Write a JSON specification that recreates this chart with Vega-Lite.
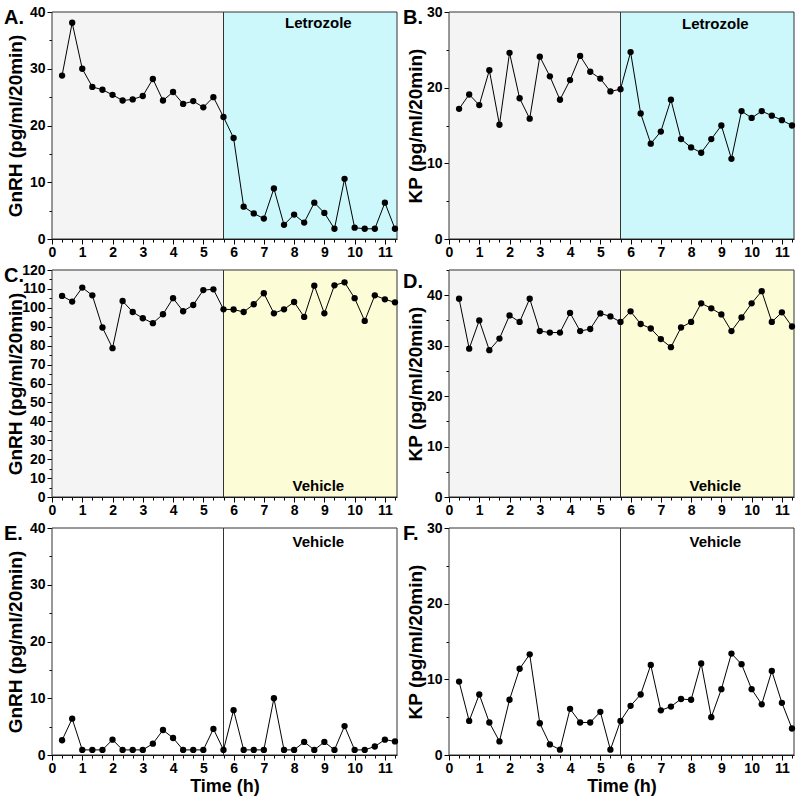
{
  "$schema": "https://vega.github.io/schema/vega-lite/v6.json",
  "padding": {"top": 5, "left": 4, "right": 5, "bottom": 2},
  "background": "white",
  "datasets": {
    "A": [{"t":0.333,"v":28.8},{"t":0.667,"v":38.1},{"t":1,"v":30.0},{"t":1.333,"v":26.8},{"t":1.667,"v":26.3},{"t":2,"v":25.4},{"t":2.333,"v":24.4},{"t":2.667,"v":24.6},{"t":3,"v":25.2},{"t":3.333,"v":28.2},{"t":3.667,"v":24.4},{"t":4,"v":25.9},{"t":4.333,"v":23.8},{"t":4.667,"v":24.3},{"t":5,"v":23.2},{"t":5.333,"v":25.0},{"t":5.667,"v":21.5},{"t":6,"v":17.8},{"t":6.333,"v":5.7},{"t":6.667,"v":4.5},{"t":7,"v":3.6},{"t":7.333,"v":8.9},{"t":7.667,"v":2.5},{"t":8,"v":4.3},{"t":8.333,"v":2.9},{"t":8.667,"v":6.4},{"t":9,"v":4.6},{"t":9.333,"v":1.8},{"t":9.667,"v":10.6},{"t":10,"v":2.0},{"t":10.333,"v":1.8},{"t":10.667,"v":1.8},{"t":11,"v":6.4},{"t":11.333,"v":1.8}],
    "B": [{"t":0.333,"v":17.2},{"t":0.667,"v":19.1},{"t":1,"v":17.7},{"t":1.333,"v":22.3},{"t":1.667,"v":15.1},{"t":2,"v":24.6},{"t":2.333,"v":18.6},{"t":2.667,"v":15.9},{"t":3,"v":24.1},{"t":3.333,"v":21.5},{"t":3.667,"v":18.4},{"t":4,"v":21.0},{"t":4.333,"v":24.2},{"t":4.667,"v":22.1},{"t":5,"v":21.2},{"t":5.333,"v":19.5},{"t":5.667,"v":19.8},{"t":6,"v":24.7},{"t":6.333,"v":16.6},{"t":6.667,"v":12.6},{"t":7,"v":14.2},{"t":7.333,"v":18.4},{"t":7.667,"v":13.2},{"t":8,"v":12.1},{"t":8.333,"v":11.4},{"t":8.667,"v":13.2},{"t":9,"v":15.0},{"t":9.333,"v":10.6},{"t":9.667,"v":16.9},{"t":10,"v":16.0},{"t":10.333,"v":16.9},{"t":10.667,"v":16.3},{"t":11,"v":15.7},{"t":11.333,"v":15.0}],
    "C": [{"t":0.333,"v":106.3},{"t":0.667,"v":103.3},{"t":1,"v":110.7},{"t":1.333,"v":106.6},{"t":1.667,"v":89.6},{"t":2,"v":78.7},{"t":2.333,"v":103.6},{"t":2.667,"v":97.8},{"t":3,"v":94.5},{"t":3.333,"v":91.9},{"t":3.667,"v":96.6},{"t":4,"v":105.1},{"t":4.333,"v":98.2},{"t":4.667,"v":101.5},{"t":5,"v":109.4},{"t":5.333,"v":109.8},{"t":5.667,"v":99.2},{"t":6,"v":99.1},{"t":6.333,"v":97.8},{"t":6.667,"v":101.9},{"t":7,"v":107.7},{"t":7.333,"v":97.1},{"t":7.667,"v":99.2},{"t":8,"v":103.1},{"t":8.333,"v":95.2},{"t":8.667,"v":111.7},{"t":9,"v":97.1},{"t":9.333,"v":111.9},{"t":9.667,"v":113.5},{"t":10,"v":105.1},{"t":10.333,"v":93.1},{"t":10.667,"v":106.6},{"t":11,"v":104.5},{"t":11.333,"v":102.9}],
    "D": [{"t":0.333,"v":39.3},{"t":0.667,"v":29.4},{"t":1,"v":35.0},{"t":1.333,"v":29.1},{"t":1.667,"v":31.4},{"t":2,"v":36.0},{"t":2.333,"v":34.7},{"t":2.667,"v":39.3},{"t":3,"v":32.9},{"t":3.333,"v":32.6},{"t":3.667,"v":32.6},{"t":4,"v":36.5},{"t":4.333,"v":32.9},{"t":4.667,"v":33.3},{"t":5,"v":36.4},{"t":5.333,"v":35.8},{"t":5.667,"v":34.7},{"t":6,"v":36.8},{"t":6.333,"v":34.3},{"t":6.667,"v":33.4},{"t":7,"v":31.3},{"t":7.333,"v":29.7},{"t":7.667,"v":33.6},{"t":8,"v":34.7},{"t":8.333,"v":38.4},{"t":8.667,"v":37.4},{"t":9,"v":36.2},{"t":9.333,"v":32.9},{"t":9.667,"v":35.6},{"t":10,"v":38.4},{"t":10.333,"v":40.8},{"t":10.667,"v":34.7},{"t":11,"v":36.6},{"t":11.333,"v":33.8}],
    "E": [{"t":0.333,"v":2.6},{"t":0.667,"v":6.4},{"t":1,"v":0.9},{"t":1.333,"v":0.9},{"t":1.667,"v":0.9},{"t":2,"v":2.7},{"t":2.333,"v":0.9},{"t":2.667,"v":0.9},{"t":3,"v":0.9},{"t":3.333,"v":2.0},{"t":3.667,"v":4.4},{"t":4,"v":3.0},{"t":4.333,"v":0.9},{"t":4.667,"v":0.9},{"t":5,"v":0.9},{"t":5.333,"v":4.6},{"t":5.667,"v":0.9},{"t":6,"v":7.9},{"t":6.333,"v":0.9},{"t":6.667,"v":0.9},{"t":7,"v":0.9},{"t":7.333,"v":10.0},{"t":7.667,"v":0.9},{"t":8,"v":0.9},{"t":8.333,"v":2.3},{"t":8.667,"v":0.9},{"t":9,"v":2.3},{"t":9.333,"v":0.9},{"t":9.667,"v":5.1},{"t":10,"v":0.9},{"t":10.333,"v":0.9},{"t":10.667,"v":1.5},{"t":11,"v":2.7},{"t":11.333,"v":2.4}],
    "F": [{"t":0.333,"v":9.7},{"t":0.667,"v":4.5},{"t":1,"v":8.0},{"t":1.333,"v":4.3},{"t":1.667,"v":1.8},{"t":2,"v":7.3},{"t":2.333,"v":11.4},{"t":2.667,"v":13.3},{"t":3,"v":4.2},{"t":3.333,"v":1.4},{"t":3.667,"v":0.7},{"t":4,"v":6.1},{"t":4.333,"v":4.3},{"t":4.667,"v":4.3},{"t":5,"v":5.7},{"t":5.333,"v":0.7},{"t":5.667,"v":4.5},{"t":6,"v":6.5},{"t":6.333,"v":8.0},{"t":6.667,"v":11.9},{"t":7,"v":5.9},{"t":7.333,"v":6.4},{"t":7.667,"v":7.4},{"t":8,"v":7.3},{"t":8.333,"v":12.1},{"t":8.667,"v":5.0},{"t":9,"v":8.7},{"t":9.333,"v":13.4},{"t":9.667,"v":12.0},{"t":10,"v":8.7},{"t":10.333,"v":6.7},{"t":10.667,"v":11.1},{"t":11,"v":6.9},{"t":11.333,"v":3.5}],
    "phLet": [{"t":0,"t2":5.667,"phase":"Baseline"},{"t":5.667,"t2":11.4,"phase":"Letrozole"}],
    "phVeh": [{"t":0,"t2":5.667,"phase":"Baseline"},{"t":5.667,"t2":11.4,"phase":"Vehicle"}],
    "phCtl": [{"t":0,"t2":5.667,"phase":"Before"},{"t":5.667,"t2":11.4,"phase":"After"}]
  },
  "columns": 2,
  "spacing": {"row": 4, "column": 4},
  "align": "each",
  "concat": [
    {
      "width": 345, "height": 227,
      "title": {"text": "A."},
      "encoding": {"x": {"field": "t", "type": "quantitative", "scale": {"domain": [0, 11.4], "nice": false, "zero": false},
        "axis": {"title": null, "tickCount": 100, "values": [0,0.333,0.667,1,1.333,1.667,2,2.333,2.667,3,3.333,3.667,4,4.333,4.667,5,5.333,5.667,6,6.333,6.667,7,7.333,7.667,8,8.333,8.667,9,9.333,9.667,10,10.333,10.667,11,11.333],
          "labelExpr": "abs(datum.value - round(datum.value)) < 0.01 ? toString(round(datum.value)) : ''",
          "tickSize": {"condition": {"test": "abs(datum.value - round(datum.value)) < 0.01", "value": 5}, "value": 3}}}},
      "layer": [
        {"data": {"name": "phLet"}, "mark": {"type": "rect", "stroke": "#333333", "strokeWidth": 1},
         "encoding": {"x2": {"field": "t2"}, "fill": {"field": "phase", "type": "nominal", "legend": null, "scale": {"domain": ["Baseline", "Letrozole", "Vehicle", "Before", "After"], "range": ["#f4f4f4", "#ccf8fc", "#fcfcd6", "#ffffff", "#ffffff"]}}}},
        {"data": {"name": "A"}, "mark": {"type": "line", "color": "black", "strokeWidth": 1, "point": {"filled": true, "size": 40, "color": "black"}},
         "encoding": {"y": {"field": "v", "type": "quantitative", "scale": {"domain": [0, 40], "nice": false},
           "axis": {"title": "GnRH (pg/ml/20min)", "titleX": -27, "tickCount": 100, "values": [0,5,10,15,20,25,30,35,40], "labelExpr": "datum.value % 10 === 0 ? toString(datum.value) : ''", "labelFontSize": {"condition": {"test": "datum.value % 10 === 0", "value": 14}, "value": 1}, "tickSize": {"condition": {"test": "datum.value % 10 === 0", "value": 5}, "value": 3}}}}},
        {"data": {"values": [{"t": 8.8, "v": 38.1, "label": "Letrozole"}]}, "mark": {"type": "text", "font": "Liberation Sans", "fontSize": 15, "fontWeight": "bold", "align": "center", "baseline": "middle", "color": "black"},
         "encoding": {"y": {"field": "v", "type": "quantitative", "scale": {"domain": [0, 40], "nice": false}}, "text": {"field": "label"}}}
      ]
    },
    {
      "width": 345, "height": 227,
      "title": {"text": "B.", "dx": -46},
      "encoding": {"x": {"field": "t", "type": "quantitative", "scale": {"domain": [0, 11.4], "nice": false, "zero": false},
        "axis": {"title": null, "tickCount": 100, "values": [0,0.333,0.667,1,1.333,1.667,2,2.333,2.667,3,3.333,3.667,4,4.333,4.667,5,5.333,5.667,6,6.333,6.667,7,7.333,7.667,8,8.333,8.667,9,9.333,9.667,10,10.333,10.667,11,11.333],
          "labelExpr": "abs(datum.value - round(datum.value)) < 0.01 ? toString(round(datum.value)) : ''",
          "tickSize": {"condition": {"test": "abs(datum.value - round(datum.value)) < 0.01", "value": 5}, "value": 3}}}},
      "layer": [
        {"data": {"name": "phLet"}, "mark": {"type": "rect", "stroke": "#333333", "strokeWidth": 1},
         "encoding": {"x2": {"field": "t2"}, "fill": {"field": "phase", "type": "nominal", "legend": null, "scale": {"domain": ["Baseline", "Letrozole", "Vehicle", "Before", "After"], "range": ["#f4f4f4", "#ccf8fc", "#fcfcd6", "#ffffff", "#ffffff"]}}}},
        {"data": {"name": "B"}, "mark": {"type": "line", "color": "black", "strokeWidth": 1, "point": {"filled": true, "size": 40, "color": "black"}},
         "encoding": {"y": {"field": "v", "type": "quantitative", "scale": {"domain": [0, 30], "nice": false},
           "axis": {"title": "KP (pg/ml/20min)", "titleX": -24, "tickCount": 100, "values": [0,5,10,15,20,25,30], "labelExpr": "datum.value % 10 === 0 ? toString(datum.value) : ''", "labelFontSize": {"condition": {"test": "datum.value % 10 === 0", "value": 14}, "value": 1}, "tickSize": {"condition": {"test": "datum.value % 10 === 0", "value": 5}, "value": 3}}}}},
        {"data": {"values": [{"t": 8.8, "v": 28.4, "label": "Letrozole"}]}, "mark": {"type": "text", "font": "Liberation Sans", "fontSize": 15, "fontWeight": "bold", "align": "center", "baseline": "middle", "color": "black"},
         "encoding": {"y": {"field": "v", "type": "quantitative", "scale": {"domain": [0, 30], "nice": false}}, "text": {"field": "label"}}}
      ]
    },
    {
      "width": 345, "height": 227,
      "title": {"text": "C."},
      "encoding": {"x": {"field": "t", "type": "quantitative", "scale": {"domain": [0, 11.4], "nice": false, "zero": false},
        "axis": {"title": null, "tickCount": 100, "values": [0,0.333,0.667,1,1.333,1.667,2,2.333,2.667,3,3.333,3.667,4,4.333,4.667,5,5.333,5.667,6,6.333,6.667,7,7.333,7.667,8,8.333,8.667,9,9.333,9.667,10,10.333,10.667,11,11.333],
          "labelExpr": "abs(datum.value - round(datum.value)) < 0.01 ? toString(round(datum.value)) : ''",
          "tickSize": {"condition": {"test": "abs(datum.value - round(datum.value)) < 0.01", "value": 5}, "value": 3}}}},
      "layer": [
        {"data": {"name": "phVeh"}, "mark": {"type": "rect", "stroke": "#333333", "strokeWidth": 1},
         "encoding": {"x2": {"field": "t2"}, "fill": {"field": "phase", "type": "nominal", "legend": null, "scale": {"domain": ["Baseline", "Letrozole", "Vehicle", "Before", "After"], "range": ["#f4f4f4", "#ccf8fc", "#fcfcd6", "#ffffff", "#ffffff"]}}}},
        {"data": {"name": "C"}, "mark": {"type": "line", "color": "black", "strokeWidth": 1, "point": {"filled": true, "size": 40, "color": "black"}},
         "encoding": {"y": {"field": "v", "type": "quantitative", "scale": {"domain": [0, 120], "nice": false},
           "axis": {"title": "GnRH (pg/ml/20min)", "titleX": -27, "tickCount": 100, "values": [0,5,10,15,20,25,30,35,40,45,50,55,60,65,70,75,80,85,90,95,100,105,110,115,120], "labelExpr": "datum.value % 10 === 0 ? toString(datum.value) : ''", "labelFontSize": {"condition": {"test": "datum.value % 10 === 0", "value": 14}, "value": 1}, "tickSize": {"condition": {"test": "datum.value % 10 === 0", "value": 5}, "value": 3}}}}},
        {"data": {"values": [{"t": 8.8, "v": 5.8, "label": "Vehicle"}]}, "mark": {"type": "text", "font": "Liberation Sans", "fontSize": 15, "fontWeight": "bold", "align": "center", "baseline": "middle", "color": "black"},
         "encoding": {"y": {"field": "v", "type": "quantitative", "scale": {"domain": [0, 120], "nice": false}}, "text": {"field": "label"}}}
      ]
    },
    {
      "width": 345, "height": 227,
      "title": {"text": "D.", "dx": -46},
      "encoding": {"x": {"field": "t", "type": "quantitative", "scale": {"domain": [0, 11.4], "nice": false, "zero": false},
        "axis": {"title": null, "tickCount": 100, "values": [0,0.333,0.667,1,1.333,1.667,2,2.333,2.667,3,3.333,3.667,4,4.333,4.667,5,5.333,5.667,6,6.333,6.667,7,7.333,7.667,8,8.333,8.667,9,9.333,9.667,10,10.333,10.667,11,11.333],
          "labelExpr": "abs(datum.value - round(datum.value)) < 0.01 ? toString(round(datum.value)) : ''",
          "tickSize": {"condition": {"test": "abs(datum.value - round(datum.value)) < 0.01", "value": 5}, "value": 3}}}},
      "layer": [
        {"data": {"name": "phVeh"}, "mark": {"type": "rect", "stroke": "#333333", "strokeWidth": 1},
         "encoding": {"x2": {"field": "t2"}, "fill": {"field": "phase", "type": "nominal", "legend": null, "scale": {"domain": ["Baseline", "Letrozole", "Vehicle", "Before", "After"], "range": ["#f4f4f4", "#ccf8fc", "#fcfcd6", "#ffffff", "#ffffff"]}}}},
        {"data": {"name": "D"}, "mark": {"type": "line", "color": "black", "strokeWidth": 1, "point": {"filled": true, "size": 40, "color": "black"}},
         "encoding": {"y": {"field": "v", "type": "quantitative", "scale": {"domain": [0, 45], "nice": false},
           "axis": {"title": "KP (pg/ml/20min)", "titleX": -24, "tickCount": 100, "values": [0,5,10,15,20,25,30,35,40,45], "labelExpr": "datum.value % 10 === 0 ? toString(datum.value) : ''", "labelFontSize": {"condition": {"test": "datum.value % 10 === 0", "value": 14}, "value": 1}, "tickSize": {"condition": {"test": "datum.value % 10 === 0", "value": 5}, "value": 3}}}}},
        {"data": {"values": [{"t": 8.8, "v": 2.2, "label": "Vehicle"}]}, "mark": {"type": "text", "font": "Liberation Sans", "fontSize": 15, "fontWeight": "bold", "align": "center", "baseline": "middle", "color": "black"},
         "encoding": {"y": {"field": "v", "type": "quantitative", "scale": {"domain": [0, 45], "nice": false}}, "text": {"field": "label"}}}
      ]
    },
    {
      "width": 345, "height": 227,
      "title": {"text": "E."},
      "encoding": {"x": {"field": "t", "type": "quantitative", "scale": {"domain": [0, 11.4], "nice": false, "zero": false},
        "axis": {"title": "Time (h)", "tickCount": 100, "values": [0,0.333,0.667,1,1.333,1.667,2,2.333,2.667,3,3.333,3.667,4,4.333,4.667,5,5.333,5.667,6,6.333,6.667,7,7.333,7.667,8,8.333,8.667,9,9.333,9.667,10,10.333,10.667,11,11.333],
          "labelExpr": "abs(datum.value - round(datum.value)) < 0.01 ? toString(round(datum.value)) : ''",
          "tickSize": {"condition": {"test": "abs(datum.value - round(datum.value)) < 0.01", "value": 5}, "value": 3}}}},
      "layer": [
        {"data": {"name": "phCtl"}, "mark": {"type": "rect", "stroke": "#333333", "strokeWidth": 1},
         "encoding": {"x2": {"field": "t2"}, "fill": {"field": "phase", "type": "nominal", "legend": null, "scale": {"domain": ["Baseline", "Letrozole", "Vehicle", "Before", "After"], "range": ["#f4f4f4", "#ccf8fc", "#fcfcd6", "#ffffff", "#ffffff"]}}}},
        {"data": {"name": "E"}, "mark": {"type": "line", "color": "black", "strokeWidth": 1, "point": {"filled": true, "size": 40, "color": "black"}},
         "encoding": {"y": {"field": "v", "type": "quantitative", "scale": {"domain": [0, 40], "nice": false},
           "axis": {"title": "GnRH (pg/ml/20min)", "titleX": -27, "tickCount": 100, "values": [0,5,10,15,20,25,30,35,40], "labelExpr": "datum.value % 10 === 0 ? toString(datum.value) : ''", "labelFontSize": {"condition": {"test": "datum.value % 10 === 0", "value": 14}, "value": 1}, "tickSize": {"condition": {"test": "datum.value % 10 === 0", "value": 5}, "value": 3}}}}},
        {"data": {"values": [{"t": 8.8, "v": 37.6, "label": "Vehicle"}]}, "mark": {"type": "text", "font": "Liberation Sans", "fontSize": 15, "fontWeight": "bold", "align": "center", "baseline": "middle", "color": "black"},
         "encoding": {"y": {"field": "v", "type": "quantitative", "scale": {"domain": [0, 40], "nice": false}}, "text": {"field": "label"}}}
      ]
    },
    {
      "width": 345, "height": 227,
      "title": {"text": "F.", "dx": -46},
      "encoding": {"x": {"field": "t", "type": "quantitative", "scale": {"domain": [0, 11.4], "nice": false, "zero": false},
        "axis": {"title": "Time (h)", "tickCount": 100, "values": [0,0.333,0.667,1,1.333,1.667,2,2.333,2.667,3,3.333,3.667,4,4.333,4.667,5,5.333,5.667,6,6.333,6.667,7,7.333,7.667,8,8.333,8.667,9,9.333,9.667,10,10.333,10.667,11,11.333],
          "labelExpr": "abs(datum.value - round(datum.value)) < 0.01 ? toString(round(datum.value)) : ''",
          "tickSize": {"condition": {"test": "abs(datum.value - round(datum.value)) < 0.01", "value": 5}, "value": 3}}}},
      "layer": [
        {"data": {"name": "phCtl"}, "mark": {"type": "rect", "stroke": "#333333", "strokeWidth": 1},
         "encoding": {"x2": {"field": "t2"}, "fill": {"field": "phase", "type": "nominal", "legend": null, "scale": {"domain": ["Baseline", "Letrozole", "Vehicle", "Before", "After"], "range": ["#f4f4f4", "#ccf8fc", "#fcfcd6", "#ffffff", "#ffffff"]}}}},
        {"data": {"name": "F"}, "mark": {"type": "line", "color": "black", "strokeWidth": 1, "point": {"filled": true, "size": 40, "color": "black"}},
         "encoding": {"y": {"field": "v", "type": "quantitative", "scale": {"domain": [0, 30], "nice": false},
           "axis": {"title": "KP (pg/ml/20min)", "titleX": -24, "tickCount": 100, "values": [0,5,10,15,20,25,30], "labelExpr": "datum.value % 10 === 0 ? toString(datum.value) : ''", "labelFontSize": {"condition": {"test": "datum.value % 10 === 0", "value": 14}, "value": 1}, "tickSize": {"condition": {"test": "datum.value % 10 === 0", "value": 5}, "value": 3}}}}},
        {"data": {"values": [{"t": 8.8, "v": 28.2, "label": "Vehicle"}]}, "mark": {"type": "text", "font": "Liberation Sans", "fontSize": 15, "fontWeight": "bold", "align": "center", "baseline": "middle", "color": "black"},
         "encoding": {"y": {"field": "v", "type": "quantitative", "scale": {"domain": [0, 30], "nice": false}}, "text": {"field": "label"}}}
      ]
    }
  ],
  "config": {
    "font": "Liberation Sans",
    "view": {"stroke": null},
    "axis": {"labelFont": "Liberation Sans", "labelFontSize": 14, "labelFontWeight": "bold", "labelColor": "black", "titleFont": "Liberation Sans", "titleFontWeight": "bold", "titleColor": "black", "domainColor": "black", "domainWidth": 1, "tickColor": "black", "tickWidth": 1, "grid": false, "labelFlush": false, "labelOverlap": false},
    "axisY": {"titleFontSize": 19, "labelPadding": 2},
    "axisX": {"titleFontSize": 18, "labelPadding": 1, "titlePadding": 2},
    "title": {"font": "Liberation Sans", "fontSize": 20, "fontWeight": "bold", "color": "black", "anchor": "start", "frame": "group", "baseline": "alphabetic", "offset": -16, "dx": -48, "dy": 7}
  }
}
